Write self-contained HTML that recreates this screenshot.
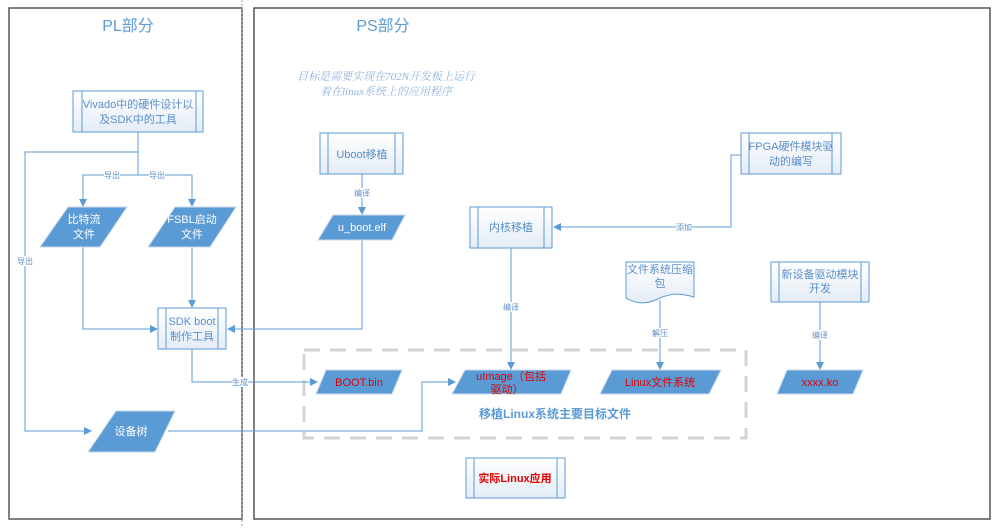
<!DOCTYPE html>
<html><head><meta charset="utf-8"><style>
body{margin:0;background:#fff;}
svg{display:block;font-family:"Liberation Sans","Noto Sans CJK SC",sans-serif;}
</style></head><body>
<svg width="994" height="528" viewBox="0 0 994 528" xmlns="http://www.w3.org/2000/svg">
<defs>
<linearGradient id="g" x1="0" y1="0" x2="0" y2="1"><stop offset="0" stop-color="#ffffff"/><stop offset="1" stop-color="#e4ecf6"/></linearGradient>
<marker id="a" markerWidth="8" markerHeight="8" refX="7" refY="4" orient="auto" markerUnits="userSpaceOnUse"><path d="M0,0 L8,4 L0,8 z" fill="#5b9bd5"/></marker>
</defs>
<!-- frames -->
<rect x="9" y="8" width="233" height="511" fill="none" stroke="#555" stroke-width="1.5"/>
<rect x="254" y="8" width="736" height="511" fill="none" stroke="#555" stroke-width="1.5"/>
<line x1="242" y1="0" x2="242" y2="528" stroke="#999" stroke-dasharray="2,2"/>
<text x="128" y="31" font-size="16" fill="#5b9bd5" text-anchor="middle">PL部分</text>
<text x="383" y="31" font-size="16" fill="#5b9bd5" text-anchor="middle">PS部分</text>
<text x="386" y="80" font-size="11" fill="#8fb4dc" font-style="italic" text-anchor="middle" font-family="Liberation Serif,Noto Serif CJK SC,serif">目标是需要实现在702N开发板上运行</text>
<text x="386" y="95" font-size="11" fill="#8fb4dc" font-style="italic" text-anchor="middle" font-family="Liberation Serif,Noto Serif CJK SC,serif">着在linux系统上的应用程序</text>

<!-- dashed group -->
<rect x="304" y="350" width="442" height="88" fill="none" stroke="#d4d4d4" stroke-width="3" stroke-dasharray="16,10"/>
<text x="555" y="418" font-size="12" font-weight="bold" fill="#5b9bd5" text-anchor="middle">移植Linux系统主要目标文件</text>

<g stroke="#5b9bd5" stroke-width="1" fill="none">
<polyline points="138,132 138,175 83,175 83,206" marker-end="url(#a)"/>
<polyline points="138,175 192,175 192,206" marker-end="url(#a)"/>
<polyline points="138,152 25,152 25,431 91,431" marker-end="url(#a)"/>
<polyline points="83,247 83,329 157,329" marker-end="url(#a)"/>
<polyline points="192,247 192,307" marker-end="url(#a)"/>
<polyline points="362,240 362,329 228,329" marker-end="url(#a)"/>
<polyline points="192,349 192,382 317,382" marker-end="url(#a)"/>
<polyline points="168,431 422,431 422,382 455,382" marker-end="url(#a)"/>
<polyline points="362,174 362,214" marker-end="url(#a)"/>
<polyline points="741,155 731,155 731,227 554,227" marker-end="url(#a)"/>
<polyline points="511,248 511,369" marker-end="url(#a)"/>
<polyline points="660,300 660,369" marker-end="url(#a)"/>
<polyline points="820,302 820,369" marker-end="url(#a)"/>
</g>
<g font-size="8" fill="#5b8fc8" text-anchor="middle">
<rect x="104" y="170" width="16" height="10" fill="#fff"/><text x="112" y="178">导出</text>
<rect x="149" y="170" width="16" height="10" fill="#fff"/><text x="157" y="178">导出</text>
<rect x="17" y="256" width="16" height="10" fill="#fff"/><text x="25" y="264">导出</text>
<rect x="232" y="377" width="16" height="10" fill="#fff"/><text x="240" y="385">生成</text>
<rect x="354" y="188" width="16" height="10" fill="#fff"/><text x="362" y="196">编译</text>
<rect x="676" y="222" width="16" height="10" fill="#fff"/><text x="684" y="230">添加</text>
<rect x="503" y="302" width="16" height="10" fill="#fff"/><text x="511" y="310">编译</text>
<rect x="652" y="328" width="16" height="10" fill="#fff"/><text x="660" y="336">解压</text>
<rect x="812" y="330" width="16" height="10" fill="#fff"/><text x="820" y="338">编译</text>
</g>

<!-- process boxes -->
<g stroke="#5b9bd5" stroke-width="1" fill="url(#g)">
<rect x="73" y="91" width="130" height="41"/><line x1="82" y1="91" x2="82" y2="132"/><line x1="196" y1="91" x2="196" y2="132"/>
<rect x="158" y="308" width="68" height="41"/><line x1="166" y1="308" x2="166" y2="349"/><line x1="218" y1="308" x2="218" y2="349"/>
<rect x="320" y="133" width="83" height="41"/><line x1="328" y1="133" x2="328" y2="174"/><line x1="395" y1="133" x2="395" y2="174"/>
<rect x="470" y="207" width="82" height="41"/><line x1="478" y1="207" x2="478" y2="248"/><line x1="544" y1="207" x2="544" y2="248"/>
<rect x="741" y="133" width="100" height="41"/><line x1="749" y1="133" x2="749" y2="174"/><line x1="832" y1="133" x2="832" y2="174"/>
<rect x="771" y="262" width="98" height="40"/><line x1="779" y1="262" x2="779" y2="302"/><line x1="861" y1="262" x2="861" y2="302"/>
<rect x="466" y="458" width="99" height="40"/><line x1="474" y1="458" x2="474" y2="498"/><line x1="557" y1="458" x2="557" y2="498"/>
<path d="M626,262 H694 V297 C680,293 672,293 660,298 C648,304 638,305 626,298 Z"/>
</g>
<g font-size="11" fill="#5b8fc8" text-anchor="middle">
<text x="138" y="108">Vivado中的硬件设计以</text><text x="138" y="123">及SDK中的工具</text>
<text x="192" y="325">SDK boot</text><text x="192" y="340">制作工具</text>
<text x="362" y="158">Uboot移植</text>
<text x="511" y="231">内核移植</text>
<text x="791" y="150">FPGA硬件模块驱</text><text x="791" y="165">动的编写</text>
<text x="820" y="278">新设备驱动模块</text><text x="820" y="292">开发</text>
<text x="660" y="273">文件系统压缩</text><text x="660" y="287">包</text>
<text x="515" y="482" fill="#e00000" font-weight="bold">实际Linux应用</text>
</g>

<!-- parallelograms -->
<g fill="#5b9bd5" stroke="#c8d8ea" stroke-width="1">
<polygon points="68,207 127,207 100,247 40,247"/>
<polygon points="175,207 236,207 210,247 148,247"/>
<polygon points="116,411 175,411 155,452 88,452"/>
<polygon points="333,215 405,215 392,240 318,240"/>
<polygon points="326,370 402,370 392,394 316,394"/>
<polygon points="465,370 571,370 561,394 452,394"/>
<polygon points="612,370 721,370 709,394 600,394"/>
<polygon points="787,370 863,370 853,394 777,394"/>
</g>
<g font-size="11" fill="#fff" text-anchor="middle">
<text x="84" y="223">比特流</text><text x="84" y="238">文件</text>
<text x="192" y="223">FSBL启动</text><text x="192" y="238">文件</text>
<text x="131" y="435">设备树</text>
<text x="362" y="231">u_boot.elf</text>
</g>
<g font-size="11" fill="#e00000" text-anchor="middle">
<text x="359" y="386">BOOT.bin</text>
<text x="511" y="380">uImage（包括</text><text x="507" y="393">驱动）</text>
<text x="660" y="386">Linux文件系统</text>
<text x="820" y="386">xxxx.ko</text>
</g>
</svg>
</body></html>
